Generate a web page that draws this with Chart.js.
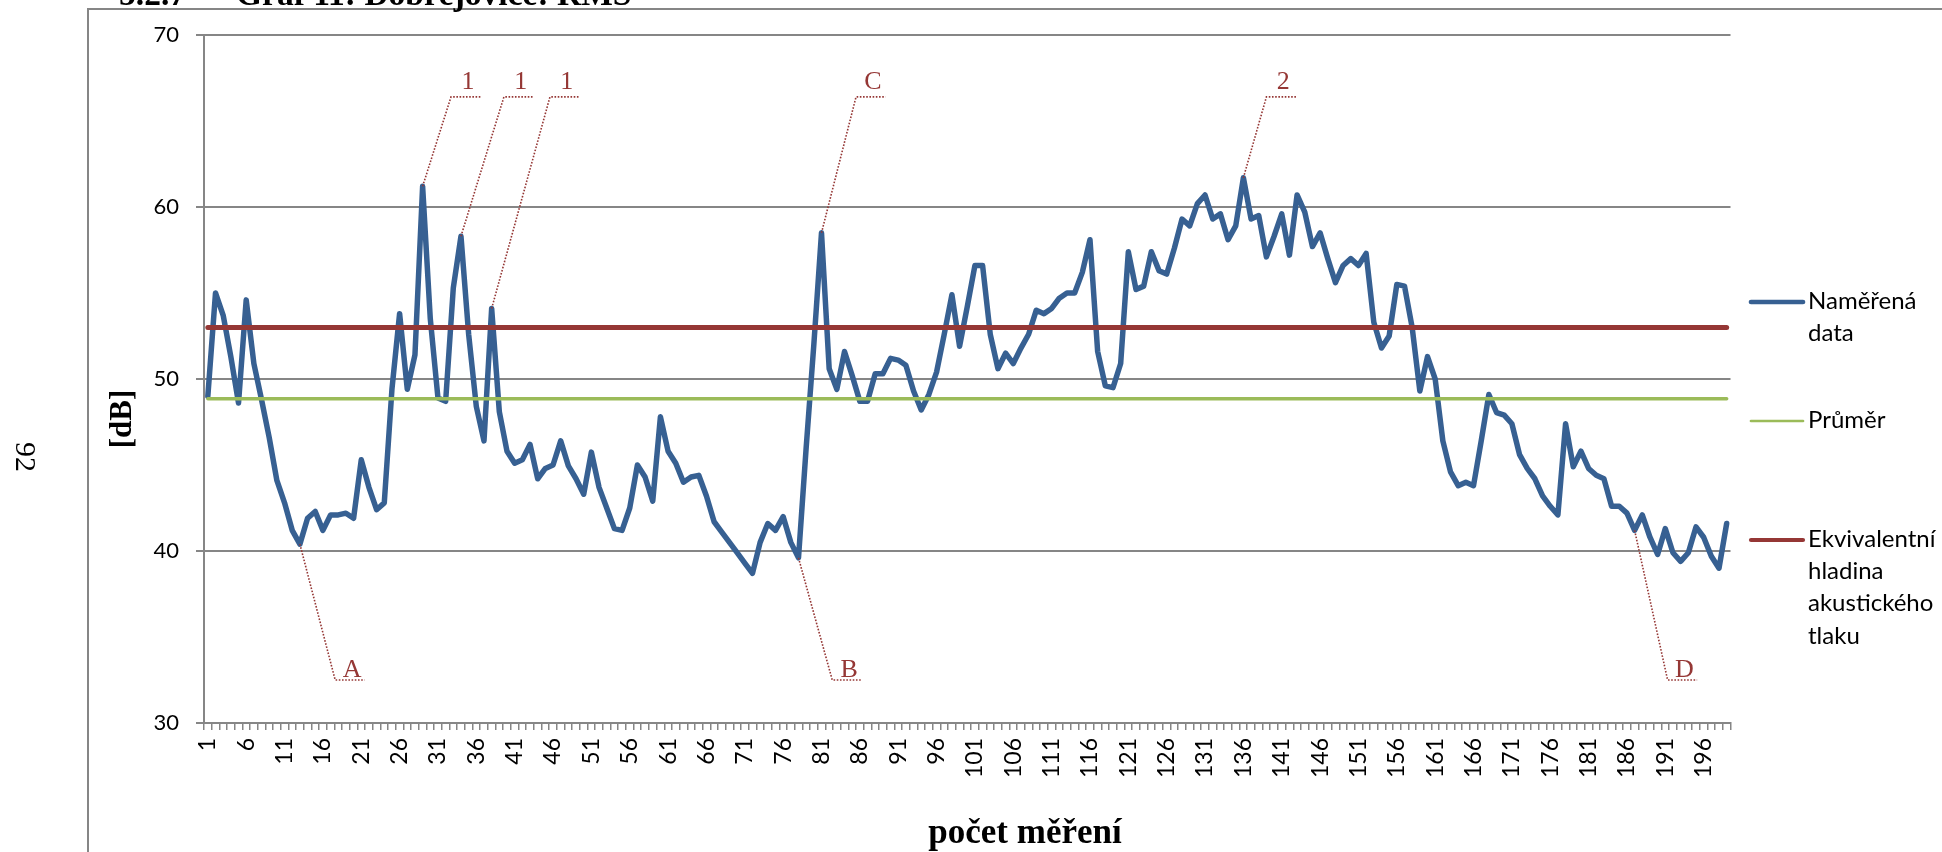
<!DOCTYPE html>
<html lang="cs">
<head>
<meta charset="utf-8">
<title>Graf 11: Dobřejovice: RMS</title>
<script src="https://cdn.jsdelivr.net/npm/chart.js@4.4.1/dist/chart.umd.min.js"></script>
<style>
  html, body { margin: 0; padding: 0; background: #ffffff; }
  #wrap { width: 1942px; height: 852px; position: relative; overflow: hidden; }
  canvas { display: block; }
</style>
</head>
<body>
<div id="wrap"><canvas id="graf" width="1942" height="852"></canvas></div>
<script>
// Naměřené hladiny hluku [dB] pro měření 1–199
const namerenaData = [
  49.0, 55.0, 53.7, 51.3, 48.6, 54.6, 50.9, 48.8, 46.6, 44.1,
  42.8, 41.2, 40.4, 41.9, 42.3, 41.2, 42.1, 42.1, 42.2, 41.9,
  45.3, 43.7, 42.4, 42.8, 49.4, 53.8, 49.4, 51.4, 61.2, 53.5,
  48.9, 48.7, 55.3, 58.3, 52.6, 48.4, 46.4, 54.1, 48.1, 45.8,
  45.1, 45.3, 46.2, 44.2, 44.8, 45.0, 46.4, 44.95, 44.2, 43.3,
  45.75, 43.7, 42.5, 41.3, 41.2, 42.5, 45.0, 44.3, 42.9, 47.8,
  45.8, 45.1, 44.0, 44.3, 44.4, 43.2, 41.7, 41.1, 40.5, 39.9,
  39.3, 38.7, 40.5, 41.6, 41.2, 42.0, 40.5, 39.6, 46.0, 52.0,
  58.5, 50.6, 49.4, 51.6, 50.2, 48.7, 48.7, 50.3, 50.3, 51.2,
  51.1, 50.8, 49.3, 48.2, 49.1, 50.4, 52.6, 54.9, 51.9, 54.2,
  56.6, 56.6, 52.6, 50.6, 51.5, 50.9, 51.8, 52.6, 54.0, 53.8,
  54.1, 54.7, 55.0, 55.0, 56.2, 58.1, 51.6, 49.6, 49.5, 50.9,
  57.4, 55.2, 55.4, 57.4, 56.3, 56.1, 57.6, 59.3, 58.9, 60.2,
  60.7, 59.3, 59.6, 58.1, 58.9, 61.7, 59.3, 59.5, 57.1, 58.3,
  59.6, 57.2, 60.7, 59.7, 57.7, 58.5, 57.0, 55.6, 56.6, 57.0,
  56.6, 57.3, 53.3, 51.8, 52.5, 55.5, 55.4, 53.0, 49.3, 51.3,
  50.0, 46.4, 44.6, 43.8, 44.0, 43.8, 46.4, 49.1, 48.05, 47.9,
  47.4, 45.6, 44.8, 44.2, 43.2, 42.6, 42.1, 47.4, 44.9, 45.8,
  44.8, 44.4, 44.2, 42.6, 42.6, 42.2, 41.2, 42.1, 40.8, 39.8,
  41.3, 39.9, 39.4, 39.9, 41.4, 40.8, 39.7, 39.0, 41.6
];

// Průměr a ekvivalentní hladina akustického tlaku [dB]
const prumer = 48.85;
const ekvivalentniHladina = 53.0;

// Pořadová čísla měření na ose x, popisek u každého pátého
const categories = namerenaData.map((_, i) => String(i + 1));
const tickStep = 5;

// Osa y [dB]
const yTicks = [30, 40, 50, 60, 70];

// Názvy řad v legendě
const seriesNames = ['Naměřená data', 'Průměr', 'Ekvivalentní hladina akustického tlaku'];

// Popisky s odkazovou čarou: bod řady, zlom čáry (pozice na ose x) a výška zlomu [dB]
const calloutTexts  = ['1', '1', '1', 'C', '2', 'A', 'B', 'D'];
const calloutPoints = [29, 34, 38, 81, 136, 13, 78, 187];
const calloutElbows = [32.7, 39.6, 45.6, 85.5, 139.0, 17.6, 82.4, 191.3];
const calloutLevels = [66.4, 66.4, 66.4, 66.4, 66.4, 32.5, 32.5, 32.5];

const SERIF = '"Liberation Serif", "Times New Roman", serif';
const SANS = 'Lato, "Noto Sans", sans-serif';
const GRAY = '#868686';
const BLUE = '#376092';
const GREEN = '#9BBB59';
const RED = '#953735';

// Rámeček stránky, záhlaví a číslo strany
const pagePlugin = {
  id: 'page',
  beforeDraw(chart) {
    const ctx = chart.ctx;
    ctx.save();
    ctx.fillStyle = '#ffffff';
    ctx.fillRect(0, 0, chart.width, chart.height);

    ctx.strokeStyle = GRAY;
    ctx.lineWidth = 2;
    ctx.beginPath();
    ctx.moveTo(88, chart.height);
    ctx.lineTo(88, 9);
    ctx.lineTo(chart.width, 9);
    ctx.stroke();

    ctx.fillStyle = '#000000';
    ctx.font = 'bold 33.5px ' + SERIF;
    ctx.textAlign = 'left';
    ctx.textBaseline = 'alphabetic';
    ctx.fillText('5.2.7', 119, 5);
    ctx.fillText('Graf 11: Dobřejovice: RMS', 236, 5);

    ctx.translate(24, 457);
    ctx.rotate(Math.PI / 2);
    ctx.font = '30px ' + SERIF;
    ctx.textAlign = 'center';
    ctx.textBaseline = 'middle';
    ctx.fillText('92', 0, 0);
    ctx.restore();
  },
  afterDraw(chart) {
    const ctx = chart.ctx;
    ctx.save();

    // názvy os
    ctx.fillStyle = '#000000';
    ctx.font = 'bold 35px ' + SERIF;
    ctx.textAlign = 'center';
    ctx.textBaseline = 'alphabetic';
    ctx.fillText('počet měření', 1025, 843);

    ctx.save();
    ctx.translate(131, 419);
    ctx.rotate(-Math.PI / 2);
    ctx.font = 'bold 31px ' + SERIF;
    ctx.textBaseline = 'alphabetic';
    ctx.fillText('[dB]', 0, 0);
    ctx.restore();

    // legenda vpravo
    ctx.font = '24px ' + SANS;
    ctx.textAlign = 'left';
    ctx.textBaseline = 'alphabetic';
    const maxWidth = 132;
    let baseline = 309;
    chart.data.datasets.forEach(ds => {
      const words = ds.label.split(' ');
      const lines = [];
      let cur = '';
      words.forEach(w => {
        const test = cur ? cur + ' ' + w : w;
        if (cur && ctx.measureText(test).width > maxWidth) {
          lines.push(cur);
          cur = w;
        } else {
          cur = test;
        }
      });
      if (cur) lines.push(cur);

      ctx.strokeStyle = ds.borderColor;
      ctx.lineWidth = ds.borderWidth - 0.8;
      ctx.lineCap = 'round';
      ctx.beginPath();
      ctx.moveTo(1751, baseline - 7);
      ctx.lineTo(1803, baseline - 7);
      ctx.stroke();

      ctx.fillStyle = '#000000';
      lines.forEach((ln, k) => ctx.fillText(ln, 1808, baseline + k * 32.2));
      baseline += 119;
    });
    ctx.restore();
  }
};

// Popisky A–D, 1, 2 s tečkovanou odkazovou čarou
const calloutPlugin = {
  id: 'callouts',
  afterDatasetsDraw(chart) {
    const ctx = chart.ctx;
    const xs = chart.scales.x;
    const ys = chart.scales.y;
    const step = xs.getPixelForValue(1) - xs.getPixelForValue(0);
    const xAt = pos => xs.getPixelForValue(0) + (pos - 1) * step;
    const meta = chart.getDatasetMeta(0);
    ctx.save();
    calloutTexts.forEach((txt, i) => {
      const idx = calloutPoints[i] - 1;
      const pt = meta.data[idx];
      const ex = xAt(calloutElbows[i]);
      const ey = ys.getPixelForValue(calloutLevels[i]);
      ctx.strokeStyle = RED;
      ctx.lineWidth = 1.6;
      ctx.setLineDash([1.6, 1.6]);
      ctx.beginPath();
      ctx.moveTo(pt.x, pt.y);
      ctx.lineTo(ex, ey);
      ctx.lineTo(ex + 3.85 * step, ey);
      ctx.stroke();
      ctx.setLineDash([]);
      ctx.fillStyle = RED;
      ctx.font = '26px ' + SERIF;
      ctx.textAlign = 'center';
      ctx.textBaseline = 'alphabetic';
      const above = calloutLevels[i] > namerenaData[idx];
      ctx.fillText(txt, ex + 2.2 * step, ey - (above ? 8 : 3));
    });
    ctx.restore();
  }
};

new Chart(document.getElementById('graf'), {
  type: 'line',
  data: {
    labels: categories,
    datasets: [
      {
        label: seriesNames[0],
        data: namerenaData,
        borderColor: BLUE,
        borderWidth: 5.5,
        pointRadius: 0,
        tension: 0,
        borderJoinStyle: 'round',
        borderCapStyle: 'round',
        order: 3
      },
      {
        label: seriesNames[1],
        data: categories.map(() => prumer),
        borderColor: GREEN,
        borderWidth: 3.5,
        pointRadius: 0,
        borderCapStyle: 'round',
        order: 2
      },
      {
        label: seriesNames[2],
        data: categories.map(() => ekvivalentniHladina),
        borderColor: RED,
        borderWidth: 5,
        pointRadius: 0,
        borderCapStyle: 'round',
        order: 1
      }
    ]
  },
  options: {
    responsive: false,
    devicePixelRatio: 1,
    animation: false,
    events: [],
    layout: { padding: { top: 35, right: 211.5, left: 0, bottom: 0 } },
    plugins: {
      legend: { display: false },
      tooltip: { enabled: false },
      title: { display: false }
    },
    scales: {
      x: {
        type: 'category',
        offset: true,
        ticks: {
          autoSkip: false,
          minRotation: 90,
          maxRotation: 90,
          padding: 8,
          color: '#000000',
          font: { family: SANS, size: 23 },
          callback: (v, i) => (i % tickStep === 0 ? categories[i] : '')
        },
        grid: {
          offset: true,
          drawOnChartArea: false,
          drawTicks: true,
          tickLength: 7,
          color: GRAY,
          lineWidth: 1.5
        },
        border: { color: GRAY, width: 2 },
        afterFit: scale => { scale.height = 129; }
      },
      y: {
        min: yTicks[0],
        max: yTicks[yTicks.length - 1],
        afterBuildTicks: scale => { scale.ticks = yTicks.map(v => ({ value: v })); },
        ticks: {
          padding: 17,
          color: '#000000',
          font: { family: SANS, size: 22 }
        },
        grid: { color: GRAY, lineWidth: 2, tickLength: 8 },
        border: { color: GRAY, width: 2 },
        afterFit: scale => { scale.width = 204; }
      }
    }
  },
  plugins: [pagePlugin, calloutPlugin]
});
</script>
</body>
</html>
